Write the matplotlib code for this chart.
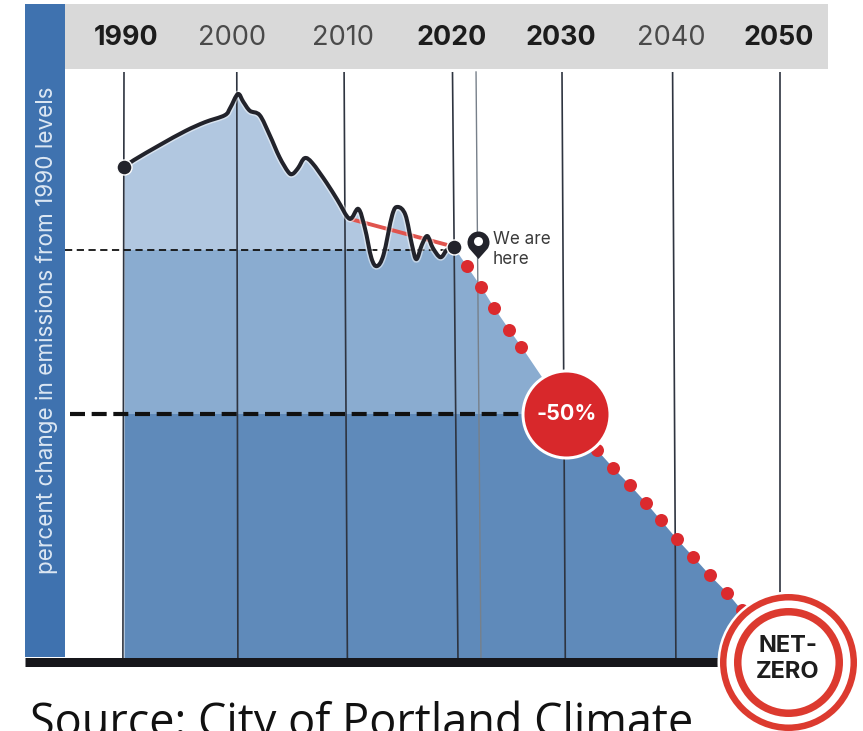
import numpy as np
import matplotlib
matplotlib.use("Agg")
import matplotlib.pyplot as plt
from matplotlib.patches import Rectangle, PathPatch
from matplotlib.path import Path

# ---- data ----
decade_years = [1990, 2000, 2010, 2020, 2030, 2040, 2050]
bold_years = [1990, 2020, 2030, 2050]
grid_top = [1990.0, 2000.3, 2010.1, 2020.0, 2030.0, 2040.1, 2049.9]
grid_bottom = [1989.9, 2000.4, 2010.4, 2020.5, 2030.3, 2040.4, 2049.9]
here_top, here_bottom = 2022.15, 2022.6

hist_years = [1990.0, 1990.9, 1993.3, 1995.6, 1997.4, 1999.2, 1999.7, 2000.4, 2000.9, 2001.5,
              2002.4, 2003.3, 2004.2, 2005.0, 2005.4, 2005.9, 2006.5, 2007.2, 2008.5, 2009.5,
              2010.6, 2011.4, 2012.0, 2012.6, 2013.1, 2013.7, 2014.5, 2015.0, 2015.7, 2016.3,
              2016.7, 2017.2, 2017.7, 2018.2, 2018.9, 2019.5, 2020.1]
hist_change = [0, 1.4, 4.5, 7.3, 9.1, 10.5, 12.0, 14.8, 13.2, 11.4,
               10.5, 6.5, 2.0, -1.0, -1.4, -0.2, 1.8, 0.8, -3.2, -6.7,
               -10.5, -8.5, -12.4, -18.5, -20.1, -17.8, -9.7, -8.1, -9.7, -15.8,
               -18.7, -15.8, -14.0, -16.4, -18.3, -16.8, -16.2]

plan_years = [2021.3, 2022.6, 2023.8, 2025.2, 2026.3, 2033.2, 2034.7, 2036.2, 2037.7, 2039.0,
              2040.5, 2042.0, 2043.5, 2045.1, 2046.4]
plan_change = [-20.1, -24.3, -28.6, -33.1, -36.5, -57.4, -61.1, -64.5, -68.2, -71.6,
               -75.5, -79.1, -82.8, -86.4, -89.9]

trend_years = [2010.6, 2019.5]
trend_change = [-10.5, -15.8]
current_level = -16.8
target_year, target_change = 2030.4, -50.0
net_change = -100.4

# ---- figure ----
W, H = 863, 731
fig = plt.figure(figsize=(W / 100, H / 100), dpi=100)
ax = fig.add_axes([0, 0, 1, 1])
xs = 10.95
ys = 4.93
def X(px): return 1990 + (px - 124) / xs
def Y(py): return (167 - py) / ys
ax.set_xlim(X(0), X(W))
ax.set_ylim(Y(H), Y(0))
ax.axis("off")

def pt(px): return px * 0.72

def smooth_path(xv, yv):
    # Catmull-Rom curve through the read values
    p = np.column_stack([xv, yv])
    verts, codes = [p[0]], [Path.MOVETO]
    for i in range(len(p) - 1):
        p0 = p[max(i - 1, 0)]
        p1, p2 = p[i], p[i + 1]
        p3 = p[min(i + 2, len(p) - 1)]
        verts += [p1 + (p2 - p0) / 6, p2 - (p3 - p1) / 6, p2]
        codes += [Path.CURVE4] * 3
    return Path(verts, codes)

# sidebar and header
ax.add_patch(Rectangle((X(25), Y(657)), X(65) - X(25), Y(4) - Y(657), color="#3f72af", lw=0, zorder=1))
ax.add_patch(Rectangle((X(65), Y(69)), X(828) - X(65), Y(4) - Y(69), color="#d9d9d9", lw=0, zorder=1))

# stacked fill bands
edge_x = np.array(hist_years + plan_years[:5] + [target_year] + plan_years[5:] + [2050.0])
edge_y = np.array(hist_change + plan_change[:5] + [target_change] + plan_change[5:] + [-100.0])
bands = [(current_level, 40, "#b1c7e0"), (target_change, current_level, "#8aacd0"), (-100, target_change, "#5f8aba")]
for low, high, col in bands:
    poly = ax.fill_between(edge_x, -100, edge_y, color=col, lw=0, zorder=2)
    clip = Rectangle((X(0), low), X(W) - X(0), high - low, transform=ax.transData)
    poly.set_clip_path(clip)

# vertical grid lines
for t, b, yr in zip(grid_top, grid_bottom, decade_years):
    ax.plot([t, b], [Y(72), Y(658)], color="#2e3440", lw=1.2, zorder=3, solid_capstyle="butt")
ax.plot([here_top, here_bottom], [Y(72), Y(658)], color="#77808a", lw=1.0, zorder=3)

# year labels
label_off = {1990: 2, 2000: -5, 2010: -1, 2020: -1, 2030: -1, 2040: -1, 2050: -1}
for yr, t in zip(decade_years, grid_top):
    bold = yr in bold_years
    ax.text(t + label_off[yr] / xs, Y(38), str(yr), ha="center", va="center",
            fontsize=19.3 if bold else 19.6, fontweight="bold" if bold else "normal",
            color="#1c1c1c" if bold else "#4a4a4a", family="Inter", zorder=6)

# side label
ax.text(X(47), Y(330), "percent change in emissions from 1990 levels", rotation=90,
        ha="center", va="center", color="#dce7f3", fontsize=16.2, family="Inter", zorder=6)

# reference dashed lines
ax.plot([X(65), X(452)], [current_level, current_level], color="#111111", lw=1.3,
        dashes=(4, 2.5), zorder=4)
ax.plot([X(70), X(528)], [target_change, target_change], color="#111111", lw=3,
        dashes=(3.6, 1.6), zorder=4)

# baseline
ax.plot([X(25), X(725)], [net_change, net_change], color="#17171b", lw=pt(9), solid_capstyle="butt", zorder=5)

# trend and history
ax.plot(trend_years, trend_change, color="#e0544e", lw=2.8, zorder=5, solid_capstyle="round")
curve = smooth_path(hist_years, hist_change)
ax.add_patch(PathPatch(curve, fc="none", ec="white", lw=5, alpha=0.5, zorder=5))
ax.add_patch(PathPatch(curve, fc="none", ec="#22232b", lw=2.9, zorder=6, joinstyle="round", capstyle="round"))
ax.scatter([hist_years[0], hist_years[-1]], [hist_change[0], hist_change[-1]], s=pt(15) ** 2,
           color="#22232b", edgecolors="white", linewidths=1.0, zorder=7)

# plan dots
ax.scatter(plan_years, plan_change, s=pt(13) ** 2, color="#db2a2e", lw=0, zorder=7)

# pin
arc = Path.arc(-35, 215)
pin = Path(np.vstack([arc.vertices, [(0, -1.5)], [arc.vertices[0]]]),
           list(arc.codes) + [Path.LINETO, Path.CLOSEPOLY])
ax.scatter([X(478)], [Y(242)], marker=pin, s=pt(33) ** 2, color="#22232b", lw=0, zorder=7)
ax.scatter([X(478)], [Y(241)], s=pt(9) ** 2, color="white", lw=0, zorder=8)
ax.text(X(493), Y(240), "We are", fontsize=12.3, color="#3a3a3a", family="Inter", va="center", zorder=7)
ax.text(X(493), Y(259), "here", fontsize=12.3, color="#3a3a3a", family="Inter", va="center", zorder=7)

# -50 % badge
ax.scatter([target_year], [target_change], s=pt(90) ** 2, color="white", lw=0, zorder=8)
ax.scatter([target_year], [target_change], s=pt(84) ** 2, color="#d8282b", lw=0, zorder=9)
ax.text(target_year, target_change, "-50%", color="white", fontsize=15.5, fontweight="bold",
        family="Inter", ha="center", va="center", zorder=10)

# source line
ax.text(X(30), Y(736), "Source: City of Portland Climate", fontsize=32.4, family="Open Sans",
        color="#111111", ha="left", va="baseline", zorder=6)

# net-zero badge
for d, col in [(142, "white"), (137, "#dc3a2f"), (124, "white"), (109, "#dc3a2f"), (94, "white")]:
    ax.scatter([X(788)], [Y(662)], s=pt(d) ** 2, color=col, lw=0, zorder=11)
ax.text(X(788), Y(646), "NET-", color="#1d1d1d", fontsize=17, fontweight="bold", family="Inter",
        ha="center", va="center", zorder=12)
ax.text(X(788), Y(672), "ZERO", color="#1d1d1d", fontsize=17, fontweight="bold", family="Inter",
        ha="center", va="center", zorder=12)

fig.savefig("out.png", dpi=100, facecolor="white")
